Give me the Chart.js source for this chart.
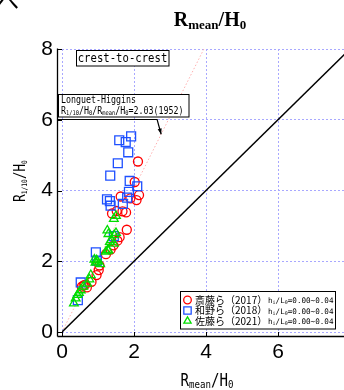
<!DOCTYPE html>
<html><head><meta charset="utf-8">
<script src="https://cdn.jsdelivr.net/npm/chart.js@4/dist/chart.umd.min.js"></script>
<style>
html,body{margin:0;padding:0;background:#fff;overflow:hidden;width:344px;height:390px}
#wrap{width:344px;height:390px;overflow:hidden;position:relative}
canvas{position:absolute;left:0;top:0}
</style></head>
<body><div id="wrap"><canvas id="c" width="360" height="390"></canvas></div>
<script>
// ---- data ----
const xTicks = [0, 2, 4, 6, 8];
const xTickLabels = ['0', '2', '4', '6', ''];
const yTicks = [0, 2, 4, 6, 8];
const saitoX = [0.55,0.60,0.64,0.69,0.82,0.96,1.02,1.04,1.22,1.35,1.43,1.54,1.60,1.80,1.39,1.52,1.68,1.78,1.63,1.90,2.07,2.14,2.02,2.11];
const saitoY = [1.28,1.32,1.33,1.26,1.42,1.61,1.75,1.88,2.20,2.33,2.45,2.58,2.68,2.89,3.35,3.42,3.41,3.38,3.83,3.78,3.73,3.87,4.24,4.82];
const wanoX = [0.44,0.52,0.94,0.97,1.44,1.25,1.33,1.35,1.69,1.81,1.86,1.88,2.09,1.34,1.55,1.84,1.59,1.77,1.92];
const wanoY = [0.90,1.40,2.25,2.02,2.71,3.75,3.70,3.57,3.62,3.80,3.96,4.27,4.12,4.42,4.77,5.08,5.42,5.37,5.53];
const satoX = [0.33,0.38,0.43,0.47,0.52,0.59,0.70,0.76,0.80,0.90,0.93,0.96,0.98,1.06,1.22,1.27,1.29,1.33,1.37,1.44,1.29,1.26,1.50,1.45,1.44,1.50];
const satoY = [0.81,0.95,1.05,1.11,1.18,1.28,1.37,1.49,1.61,2.05,1.96,2.03,1.99,1.92,2.27,2.32,2.30,2.55,2.60,2.50,2.77,2.87,2.80,2.74,3.20,3.28];
const seriesNames = ['斎藤ら（2017）', '和野ら（2018）', '佐藤ら（2021）'];
const rangeNote = '=0.00~0.04';
const lhRatio = 2.03;
const axisMin = 0, axisMax = 8;

const red = '#ff0000', blue = '#1e50ff', green = '#00dd00';
const toPts = (xs, ys) => xs.map((x, i) => ({x, y: ys[i]}));
const MONO = "'DejaVu Sans Mono', 'Liberation Mono', monospace";
const HW = 0.5 / 0.602; // squeeze mono glyphs to half-width

function measureRuns(ctx, parts, weight, family, sx) {
  let w = 0;
  parts.forEach(p => { ctx.font = weight + ' ' + p[1] + 'px ' + family; w += ctx.measureText(p[0]).width * sx; });
  return w;
}
function drawRuns(ctx, parts, x, y, opt) {
  const weight = opt.weight || '', family = opt.family, sx = opt.sx || 1;
  let cx = x;
  if (opt.align === 'center') cx = x - measureRuns(ctx, parts, weight, family, sx) / 2;
  ctx.textBaseline = 'alphabetic'; ctx.textAlign = 'left';
  parts.forEach(p => {
    ctx.font = weight + ' ' + p[1] + 'px ' + family;
    const w = ctx.measureText(p[0]).width;
    ctx.save(); ctx.translate(cx, y + p[2]); ctx.scale(sx, 1); ctx.fillText(p[0], 0, 0); ctx.restore();
    cx += w * sx;
  });
}
function drawMarker(ctx, style, r, x, y, color) {
  ctx.save(); ctx.strokeStyle = color; ctx.lineWidth = 1.3; ctx.beginPath();
  if (style === 'circle') ctx.arc(x, y, r, 0, Math.PI * 2);
  else if (style === 'rect') { const s = r * Math.SQRT1_2; ctx.rect(x - s, y - s, 2 * s, 2 * s); }
  else { for (let i = 0; i < 3; i++) { const a = -Math.PI / 2 + i * 2 * Math.PI / 3; const px = x + r * Math.cos(a), py = y + r * Math.sin(a); i ? ctx.lineTo(px, py) : ctx.moveTo(px, py); } ctx.closePath(); }
  ctx.stroke(); ctx.restore();
}

const deco = {
  id: 'deco',
  afterDraw(ch) {
    const ctx = ch.ctx, xs = ch.scales.x, ys = ch.scales.y, a = ch.chartArea;
    ctx.save();
    ctx.fillStyle = '#000'; ctx.strokeStyle = '#000';
    const L = (x1, y1, x2, y2) => { ctx.beginPath(); ctx.moveTo(x1, y1); ctx.lineTo(x2, y2); ctx.stroke(); };
    // offset axes + inward ticks
    ctx.lineWidth = 1.3;
    const axL = a.left - 4.5, axB = a.bottom + 4.5;
    L(axL, a.top - 0.5, axL, axB); L(axL, axB, 360, axB);
    ctx.lineWidth = 1;
    yTicks.forEach(v => { const p = Math.round(ys.getPixelForValue(v)) + 0.5; L(axL, p, a.left, p); });
    xTicks.forEach(v => { const p = Math.round(xs.getPixelForValue(v)) + 0.5; L(p, a.bottom, p, axB); });

    // title
    drawRuns(ctx, [['R', 20, 0], ['mean', 13, 3], ['/H', 20, 0], ['0', 13, 3]], 210, 26, {weight: 'bold', family: "'Liberation Serif', serif", align: 'center'});
    // x axis title
    drawRuns(ctx, [['R', 17, 0], ['mean', 11, 2], ['/H', 17, 0], ['0', 11, 2]], 207, 386, {family: MONO, sx: HW, align: 'center'});
    // y axis title
    ctx.save(); ctx.translate(25, 181); ctx.rotate(-Math.PI / 2);
    drawRuns(ctx, [['R', 15, 0], ['1/10', 7.5, 2], ['/H', 15, 0], ['0', 7.5, 2]], 0, 0, {family: MONO, sx: HW, align: 'center'});
    ctx.restore();

    // corner glyph
    ctx.font = "22px 'Noto Sans CJK JP'"; ctx.textBaseline = 'middle'; ctx.textAlign = 'left';
    ctx.fillText('へ', -3, 1);

    // crest-to-crest box
    ctx.lineWidth = 1;
    ctx.fillStyle = '#fff'; ctx.fillRect(76, 50.5, 93, 15.5);
    ctx.strokeRect(76.5, 50.5, 92.5, 15.5);
    ctx.fillStyle = '#000';
    drawRuns(ctx, [['crest-to-crest', 12.8, 0]], 122.5, 62, {family: MONO, sx: HW, align: 'center'});

    // Longuet-Higgins box
    ctx.fillStyle = '#fff'; ctx.fillRect(58, 94, 131, 23);
    ctx.strokeRect(58.5, 94.5, 130.5, 22.5);
    ctx.fillStyle = '#000';
    drawRuns(ctx, [['Longuet-Higgins', 10, 0]], 61, 102.5, {family: MONO, sx: HW});
    drawRuns(ctx, [['R', 10, 0], ['1/10', 6.5, 1], ['/H', 10, 0], ['0', 6.5, 1], ['/R', 10, 0], ['mean', 6.5, 1], ['/H', 10, 0], ['0', 6.5, 1], ['=2.03(1952)', 10, 0]], 61, 113.5, {family: MONO, sx: HW});
    // leader with arrow to Longuet-Higgins line
    const ty = 5.59, tx = ty / lhRatio;
    const px = xs.getPixelForValue(tx), py = ys.getPixelForValue(ty);
    const ky = 119.5, kx = px - 4;
    ctx.lineWidth = 1.2;
    ctx.beginPath(); ctx.moveTo(58, ky); ctx.lineTo(kx, ky); ctx.lineTo(px, py); ctx.stroke();
    const ang = Math.atan2(py - ky, px - kx);
    ctx.beginPath(); ctx.moveTo(px, py);
    ctx.lineTo(px - 6 * Math.cos(ang - 0.35), py - 6 * Math.sin(ang - 0.35));
    ctx.lineTo(px - 6 * Math.cos(ang + 0.35), py - 6 * Math.sin(ang + 0.35));
    ctx.closePath(); ctx.fill();

    // legend
    ctx.lineWidth = 1;
    ctx.fillStyle = '#fff'; ctx.fillRect(180, 291, 156, 38);
    ctx.strokeRect(180.5, 291.5, 155, 37.5);
    const rows = [300, 310.5, 321];
    const styles = [['circle', 3.8, red], ['rect', 5.2, blue], ['triangle', 4.2, green]];
    rows.forEach((ry, i) => {
      drawMarker(ctx, styles[i][0], styles[i][1], 187.5, ry, styles[i][2]);
      ctx.fillStyle = '#000';
      ctx.font = "10px 'Noto Sans CJK JP'"; ctx.textBaseline = 'middle'; ctx.textAlign = 'left';
      ctx.fillText(seriesNames[i], 195, ry);
      drawRuns(ctx, [['h', 7.6, 0], ['i', 5, 1], ['/L', 7.6, 0], ['0', 5, 1], [rangeNote, 7.6, 0]], 268, ry + 3, {family: MONO, sx: 1});
    });
    ctx.restore();
  }
};

const tickFont = {family: "'Liberation Sans Narrow', 'Liberation Sans', sans-serif", size: 21};
new Chart(document.getElementById('c'), {
  type: 'scatter',
  data: {
    datasets: [
      {data: toPts(satoX, satoY), pointStyle: 'triangle', pointRadius: 5, pointHoverRadius: 5, borderColor: green, backgroundColor: 'rgba(0,0,0,0)', borderWidth: 1.3, order: 1},
      {data: toPts(wanoX, wanoY), pointStyle: 'rect', pointRadius: 6.3, pointHoverRadius: 6.3, borderColor: blue, backgroundColor: 'rgba(0,0,0,0)', borderWidth: 1.3, order: 2},
      {data: toPts(saitoX, saitoY), pointStyle: 'circle', pointRadius: 4.5, pointHoverRadius: 4.5, borderColor: red, backgroundColor: 'rgba(0,0,0,0)', borderWidth: 1.3, order: 3},
      {type: 'line', data: [{x: axisMin, y: axisMin}, {x: axisMax, y: axisMax}], borderColor: '#000', borderWidth: 1.5, pointRadius: 0, fill: false, order: 4},
      {type: 'line', data: [{x: 0, y: 0}, {x: axisMax / lhRatio, y: axisMax}], borderColor: '#ffb0b0', borderDash: [1.5, 2], borderWidth: 1, pointRadius: 0, fill: false, order: 5}
    ]
  },
  options: {
    responsive: false, animation: false, devicePixelRatio: 1, events: [],
    layout: {padding: {left: 0, top: 49, right: 10, bottom: 0}},
    plugins: {legend: {display: false}, title: {display: false}, tooltip: {enabled: false}},
    scales: {
      x: {
        type: 'linear', min: axisMin, max: axisMax,
        afterBuildTicks: s => { s.ticks = xTicks.map(v => ({value: v})); },
        afterFit: s => { s.height = 58; },
        grid: {color: '#a8a8ff', lineWidth: 1, drawTicks: false},
        border: {display: false, dash: [2, 2]},
        ticks: {color: '#000', font: tickFont, padding: 8, maxRotation: 0, autoSkip: false,
                callback: (v, i) => xTickLabels[i]}
      },
      y: {
        type: 'linear', min: axisMin, max: axisMax,
        afterBuildTicks: s => { s.ticks = yTicks.map(v => ({value: v})); },
        afterFit: s => { s.width = 62; },
        grid: {color: '#a8a8ff', lineWidth: 1, drawTicks: false},
        border: {display: false, dash: [2, 2]},
        ticks: {color: '#000', font: tickFont, padding: 9, autoSkip: false}
      }
    }
  },
  plugins: [deco]
});
</script>
</body></html>
